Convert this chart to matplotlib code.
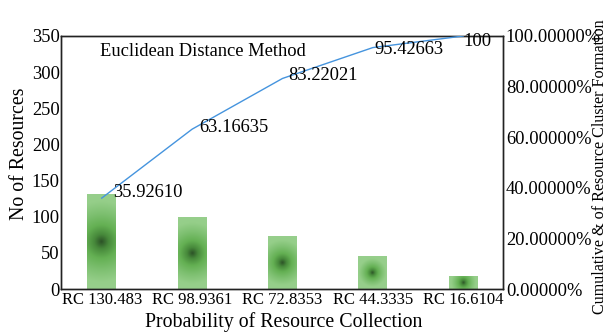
#!/usr/bin/env python3
"""Pareto chart: resources per probability of resource collection (Euclidean distance method)."""

import numpy as np
import matplotlib
matplotlib.use('Agg')
import matplotlib.pyplot as plt
from matplotlib.colors import LinearSegmentedColormap
from matplotlib.ticker import FuncFormatter

categories = ['RC 130.483', 'RC 98.9361', 'RC 72.8353', 'RC 44.3335', 'RC 16.6104']
resources = [130.483, 98.9361, 72.8353, 44.3335, 16.6104]
cumulative = [35.92610, 63.16635, 83.22021, 95.42663, 100]
cum_labels = ['35.92610', '63.16635', '83.22021', '95.42663', '100']
label_offsets = [(11, 6), (7, 2), (6, 3), (2, -2), (0, -6)]

plt.rcParams['font.family'] = ['Liberation Serif', 'DejaVu Serif']

GREEN = LinearSegmentedColormap.from_list(
    'bar_green',
    [(0.0, '#2c5227'), (0.15, '#47893b'), (0.35, '#64b053'),
     (0.6, '#7ec071'), (0.85, '#95ce89'), (1.0, '#97cf8c')])


def gradient_bar(ax, rect):
    x0, y0 = rect.get_x(), rect.get_y()
    w, h = rect.get_width(), rect.get_height()
    # bar size in pixels so the glow is round, not stretched
    (px0, py0), (px1, py1) = ax.transData.transform([(x0, y0), (x0 + w, y0 + h)])
    hw, hh = abs(px1 - px0) / 2, abs(py1 - py0) / 2
    n = 200
    xx, yy = np.meshgrid(np.linspace(-hw, hw, n), np.linspace(-hh, hh, n))
    r = np.clip(np.sqrt(xx ** 2 + yy ** 2) / max(hw, hh), 0, 1)
    ax.imshow(r, cmap=GREEN, vmin=0, vmax=1, extent=(x0, x0 + w, y0, y0 + h),
              aspect='auto', origin='lower', interpolation='bilinear',
              clip_path=rect, clip_on=True, zorder=2)
    rect.set_alpha(0)


def main():
    fig = plt.figure(figsize=(6.09, 3.33), dpi=100)
    ax = fig.add_axes([0.1002, 0.1321, 0.7258, 0.7598])
    x = np.arange(len(categories))

    ax.set_xlim(-0.45, 4.44)
    ax.set_ylim(0, 350)
    bars = ax.bar(x, resources, width=0.32, color='#8dca80', zorder=2)
    ax.set_xlim(-0.45, 4.44)
    ax.set_ylim(0, 350)
    for rect in bars:
        gradient_bar(ax, rect)

    ax.set_yticks(range(0, 351, 50))
    ax.set_xticks(x)
    ax.set_xticklabels(categories, fontsize=12)
    ax.tick_params(axis='y', length=0, pad=1, labelsize=13.3)
    ax.tick_params(axis='x', length=0, pad=2)
    for sp in ax.spines.values():
        sp.set_linewidth(1.0)
        sp.set_color('#222222')

    ax.text(0.088, 0.937, 'Euclidean Distance Method', transform=ax.transAxes,
            fontsize=13.3, ha='left', va='center')

    ax2 = ax.twinx()
    ax2.plot(x, cumulative, color='#4594de', linewidth=1.0, zorder=3)
    ax2.set_ylim(0, 100)
    ax2.set_yticks(range(0, 101, 20))
    ax2.yaxis.set_major_formatter(FuncFormatter(lambda v, p: f'{v:.5f}%'))
    ax2.tick_params(axis='y', length=0, pad=2, labelsize=13.3)
    for sp in ax2.spines.values():
        sp.set_linewidth(1.0)
        sp.set_color('#222222')

    for xi, yi, lab, off in zip(x, cumulative, cum_labels, label_offsets):
        ax2.annotate(lab, (xi, yi), xytext=off, textcoords='offset pixels',
                     ha='left', va='center', fontsize=13.3,
                     annotation_clip=False)

    fig.text(20 / 609, 1 - 154 / 333, 'No of Resources', rotation=90,
             ha='center', va='center', fontsize=14.3)
    fig.text(283.5 / 609, 1 - 322 / 333, 'Probability of Resource Collection',
             ha='center', va='center', fontsize=14.3)
    fig.text(600 / 609, 1 - 167 / 333, 'Cumulative & of Resource Cluster Formation',
             rotation=90, ha='center', va='center', fontsize=11.6)

    fig.savefig('out.png', dpi=100)
    plt.close(fig)


if __name__ == '__main__':
    main()
